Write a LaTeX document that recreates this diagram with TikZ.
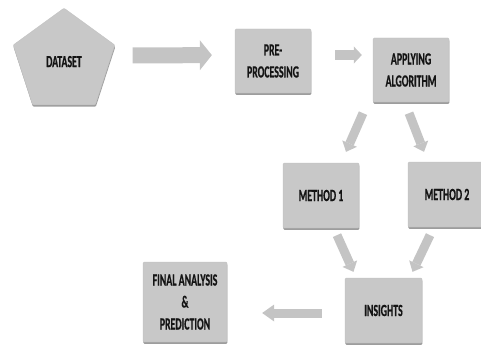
\documentclass[tikz,border=0pt]{standalone}
\usepackage{fontspec}
\newfontfamily\calfont[FakeStretch=0.58, FakeBold=0.6]{Carlito}
\usetikzlibrary{positioning, arrows.meta, shapes.geometric, shadows}
\definecolor{boxgray}{RGB}{200,200,200}
\definecolor{arrgray}{RGB}{196,196,196}
\definecolor{txtgray}{RGB}{20,20,20}

\begin{document}
\begin{tikzpicture}[
    x=1pt, y=-1pt,
    box/.style={rectangle, rounded corners=1pt, fill=boxgray, draw=black!25, line width=0.3pt, minimum width=76pt, minimum height=64pt, align=center, inner sep=0pt, text=txtgray, font=\calfont\bfseries\fontsize{17}{22}\selectfont, drop shadow={shadow xshift=0.4pt, shadow yshift=-1.8pt, fill=black!55, opacity=0.7}},
    arr/.style n args={3}{draw=arrgray, line width=#1, -{Triangle[length=#3 0 0, width=#2 0 0, line width=0pt 0 0]}}
]
    \useasboundingbox (0,0) rectangle (481,345);

    \node[box, regular polygon, regular polygon sides=5, minimum size=107pt] (dataset) at (64,61.6) {\raisebox{-6pt}{DATASET}};
    \node[box] (pre) at (273,61) {PRE-\\PROCESSING};
    \node[box] (algo) at (411,70) {APPLYING\\ALGORITHM};
    \node[box, minimum height=65pt] (m1) at (321,195.5) {METHOD 1};
    \node[box, minimum width=78pt, minimum height=65pt] (m2) at (447,194.5) {METHOD 2};
    \node[box, minimum width=77pt, minimum height=65pt] (ins) at (383.5,310.5) {INSIGHTS};
    \node[box, minimum width=84pt, minimum height=80pt] (final) at (185,302) {FINAL ANALYSIS\\\&\\PREDICTION};

    % block arrows
    \draw[arr={16pt}{30pt}{12pt}, shorten <=23pt, shorten >=23pt] ([yshift=6pt]dataset.east) -- ([yshift=6pt]pre.west);
    \draw[arr={10pt}{17pt}{8pt}, shorten <=24pt, shorten >=11pt] ([yshift=6pt]pre.east) -- ([yshift=15pt]algo.west);
    \draw[arr={9pt}{16pt}{9pt}] ([xshift=-48pt, yshift=-11pt]algo.south) -- ([xshift=25pt, yshift=11pt]m1.north);
    \draw[arr={9pt}{16pt}{9pt}] ([xshift=-2pt, yshift=-11pt]algo.south) -- ([xshift=-23pt, yshift=10pt]m2.north);
    \draw[arr={9pt}{16pt}{9pt}] ([xshift=16pt, yshift=-7pt]m1.south) -- ([xshift=-30pt, yshift=6pt]ins.north);
    \draw[arr={9pt}{16pt}{9pt}] ([xshift=-17pt, yshift=-8pt]m2.south) -- ([xshift=29pt, yshift=6pt]ins.north);
    \draw[arr={9pt}{17pt}{12pt}, shorten <=23pt, shorten >=35pt] ([yshift=-2.5pt]ins.west) -- ([yshift=-11pt]final.east);
\end{tikzpicture}
\end{document}
